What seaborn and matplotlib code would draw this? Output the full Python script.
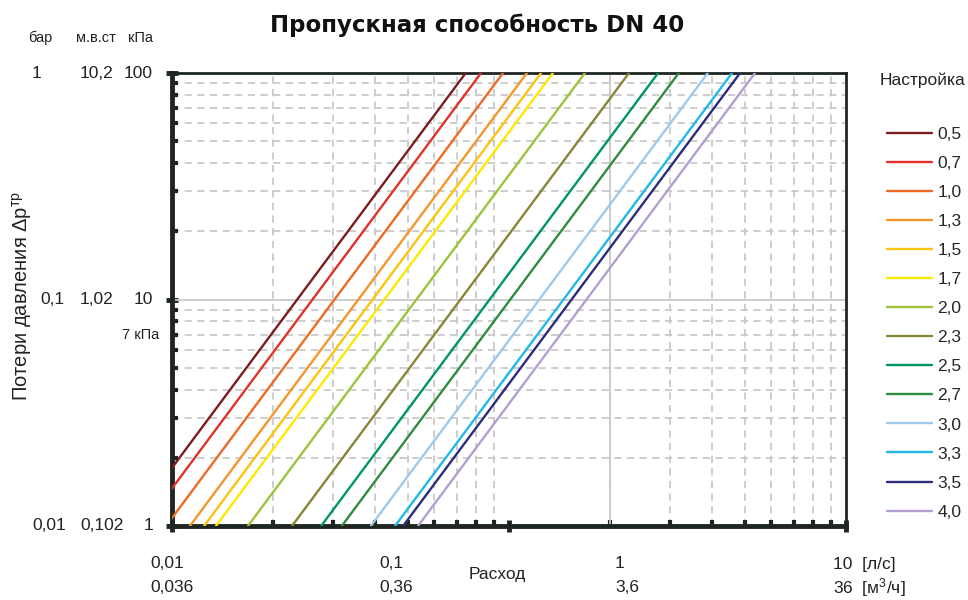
import matplotlib
matplotlib.use("Agg")
import matplotlib.pyplot as plt
from matplotlib import transforms
from matplotlib.ticker import LogLocator
import seaborn as sns
import pandas as pd

# Настройка -> flow at 1 kPa and at 100 kPa (grid units of the chart)
settings = ["0,5", "0,7", "1,0", "1,3", "1,5", "1,7", "2,0",
            "2,3", "2,5", "2,7", "3,0", "3,3", "3,5", "4,0"]
q_at_1kpa = [0.00744, 0.00826, 0.0096, 0.0113, 0.01245, 0.0135, 0.0168,
             0.0227, 0.0277, 0.0319, 0.0389, 0.0459, 0.0485, 0.0537]
q_at_100kpa = [0.0744, 0.0826, 0.096, 0.113, 0.1245, 0.135, 0.168,
               0.227, 0.277, 0.319, 0.389, 0.459, 0.485, 0.537]
colors = ["#7c1d1d", "#e0322b", "#ec6a24", "#f4962c", "#fdc30f", "#fde900",
          "#9cc33b", "#878633", "#00965f", "#2c8c40", "#9fc9ec", "#22b8e8",
          "#2e2b7c", "#b39fcf"]

# axis label columns
bar_labels = ["1", "0,1", "0,01"]
mwc_labels = ["10,2", "1,02", "0,102"]
kpa_labels = ["100", "10", "1"]
kpa_values = [100, 10, 1]
ls_labels = ["0,01", "0,1", "1", "10  [л/с]"]
m3h_labels = ["0,036", "0,36", "3,6", "36  [м$^3$/ч]"]

rows = []
for s, q1, q100 in zip(settings, q_at_1kpa, q_at_100kpa):
    rows.append({"Настройка": s, "q": q1, "dp": 1.0})
    rows.append({"Настройка": s, "q": q100, "dp": 100.0})
df = pd.DataFrame(rows)

sns.set_theme(style="white")
plt.rcParams["font.family"] = ["Liberation Sans", "DejaVu Sans"]
plt.rcParams["mathtext.fontset"] = "custom"
plt.rcParams["mathtext.rm"] = "Liberation Sans"
plt.rcParams["mathtext.it"] = "Liberation Sans"

W, H = 968, 600
fig = plt.figure(figsize=(W / 100, H / 100), dpi=100)
ax = fig.add_axes([172 / W, 1 - 526 / H, (846 - 172) / W, (526 - 73) / H])

dark = "#1f2622"
grid_c = "#c9c9c9"
txt_c = "#222222"

ax.set_xscale("log")
ax.set_yscale("log")
ax.set_xlim(0.01, 1)
ax.set_ylim(1, 100)

ax.xaxis.set_minor_locator(LogLocator(base=10, subs=range(2, 10)))
ax.yaxis.set_minor_locator(LogLocator(base=10, subs=range(2, 10)))
ax.grid(False)
ax.grid(which="minor", color=grid_c, linestyle=(0, (4, 3)), linewidth=1.3)
ax.axhline(10, color=grid_c, linewidth=1.3, zorder=1)
ax.axvline(0.2, color=grid_c, linewidth=1.3, zorder=1)

sns.lineplot(data=df, x="q", y="dp", hue="Настройка", palette=colors,
             estimator=None, sort=False, linewidth=1.7, ax=ax, zorder=3)

for side in ["left", "bottom"]:
    ax.spines[side].set_linewidth(3.5)
    ax.spines[side].set_color(dark)
for side in ["top", "right"]:
    ax.spines[side].set_linewidth(2)
    ax.spines[side].set_color(dark)

ax.tick_params(which="major", direction="inout", length=9, width=3.5, color=dark,
               labelleft=False, labelbottom=False, left=True, bottom=True)
ax.tick_params(which="minor", direction="in", length=4, width=3, color=dark,
               left=True, bottom=True)
ax.set_xlabel("")
ax.set_ylabel("")

# legend
handles, labels = ax.get_legend_handles_labels()
ax.legend(handles, labels, loc="upper left", bbox_to_anchor=(880 / W, 1 - 120 / H),
          bbox_transform=fig.transFigure, frameon=False, fontsize=12.5,
          handlelength=2.6, handletextpad=0.3, labelspacing=0.8, borderaxespad=0)
fig.text(880 / W, 1 - 80 / H, "Настройка", fontsize=12.5, va="center", ha="left", color=txt_c)

# title
fig.text(477 / W, 1 - 25 / H, "Пропускная способность DN 40", fontsize=16.5,
         fontweight="bold", ha="center", va="center", family=["DejaVu Sans"], color="#111111")

# y columns
ytr = transforms.blended_transform_factory(fig.transFigure, ax.transData)
fig.text(28 / W, 1 - 38 / H, "бар", fontsize=10.5, va="center", ha="left", color=txt_c)
fig.text(76 / W, 1 - 38 / H, "м.в.ст", fontsize=10.5, va="center", ha="left", color=txt_c)
fig.text(153 / W, 1 - 38 / H, "кПа", fontsize=10.5, va="center", ha="right", color=txt_c)
bar_x = [32, 40, 32]
for bl, ml, kl, kv, bx in zip(bar_labels, mwc_labels, kpa_labels, kpa_values, bar_x):
    ax.text(bx / W, kv, bl, transform=ytr, fontsize=12.5, va="center", ha="left", color=txt_c)
    ax.text(80 / W, kv, ml, transform=ytr, fontsize=12.5, va="center", ha="left", color=txt_c)
    ax.text(153 / W, kv, kl, transform=ytr, fontsize=12.5, va="center", ha="right", color=txt_c)
ax.text(159 / W, 7, "7 кПа", transform=ytr, fontsize=10.5, va="center", ha="right", color=txt_c)

fig.text(22 / W, 1 - 296 / H, "Потери давления Δp$^{\\mathrm{тр}}$", fontsize=14.5,
         rotation=90, va="center", ha="center", color=txt_c)

# x columns
x_pos = [150, 379, 615, 833]
for xp, l1, l2 in zip(x_pos, ls_labels, m3h_labels):
    fig.text(xp / W, 1 - 564 / H, l1, fontsize=12.5, va="center", ha="left", color=txt_c)
    fig.text(xp / W, 1 - 588 / H, l2, fontsize=12.5, va="center", ha="left", color=txt_c)
fig.text(497 / W, 1 - 575 / H, "Расход", fontsize=12.5, va="center", ha="center", color=txt_c)

fig.savefig("out.png", dpi=100)
